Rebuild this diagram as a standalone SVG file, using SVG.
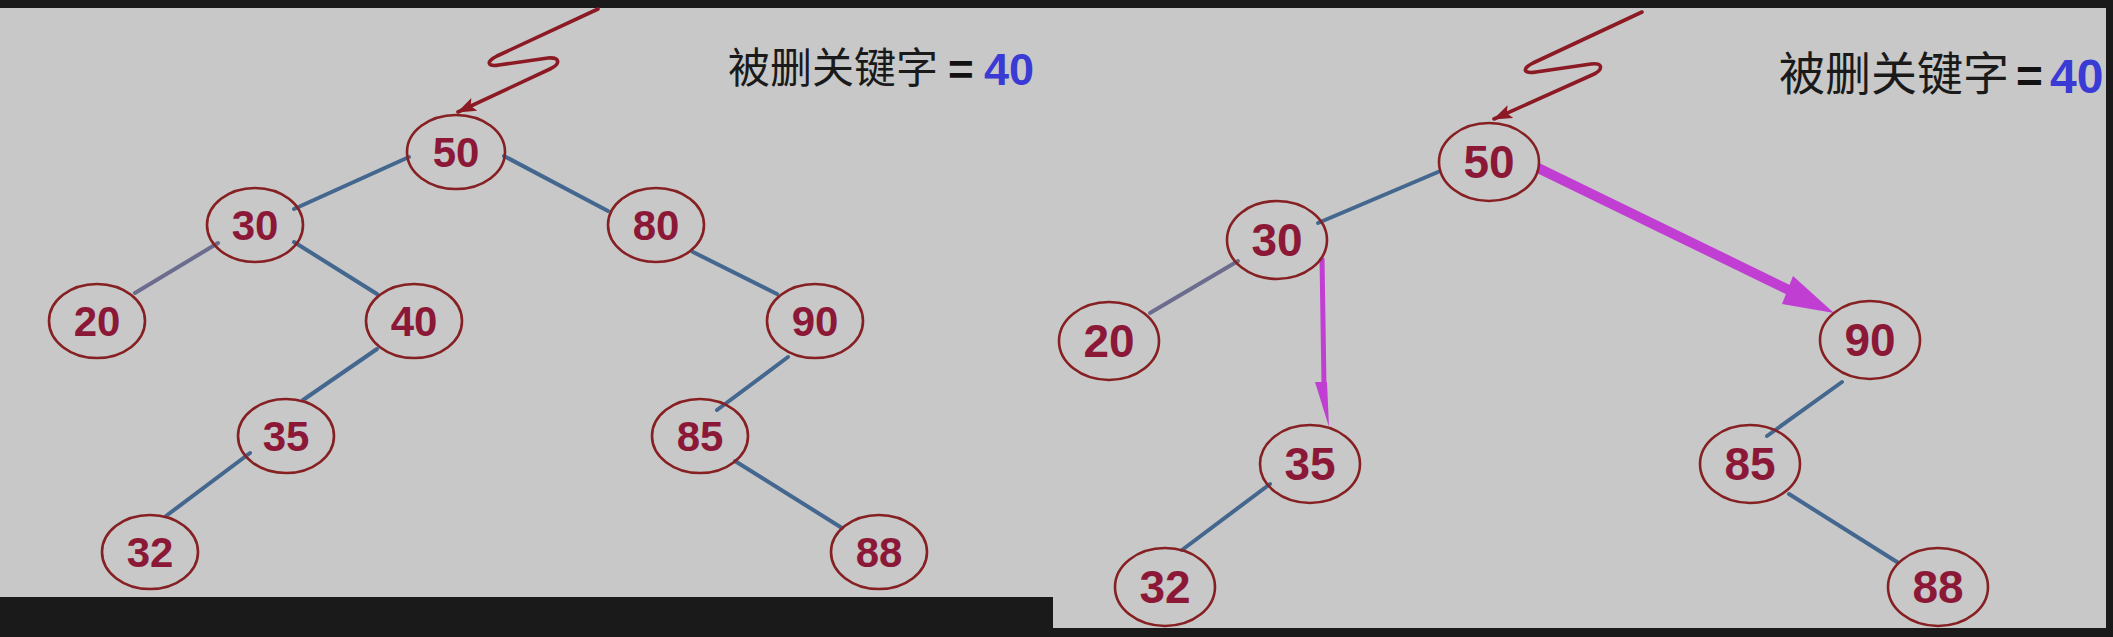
<svg xmlns="http://www.w3.org/2000/svg" width="2113" height="637" viewBox="0 0 2113 637">
<style>
.node ellipse{fill:none;stroke:#862022;stroke-width:2.6}
.nl text{font-family:"Liberation Sans",Arial,sans-serif;font-weight:bold;font-size:42px;fill:#8c1838;text-anchor:middle}
.nr text{font-family:"Liberation Sans",Arial,sans-serif;font-weight:bold;font-size:46px;fill:#8c1838;text-anchor:middle}
.edge{stroke:#44678f;stroke-width:4;fill:none;stroke-linecap:round}
.edge2{stroke:#6c6c8e;stroke-width:4;fill:none;stroke-linecap:round}
.zig{stroke:#8b1a24;stroke-width:3.6;fill:none;stroke-linejoin:round;stroke-linecap:round}
.cjk{font-family:"Noto Sans CJK SC","Noto Sans CJK JP",sans-serif;fill:#1a1a1a}
.eq{font-family:"Liberation Sans",Arial,sans-serif;font-weight:bold;fill:#111}
.num{font-family:"Liberation Sans",Arial,sans-serif;font-weight:bold;fill:#3a3ad4}
.mag{fill:#c03ed2}
</style>
<defs>
<marker id="ah" markerUnits="userSpaceOnUse" markerWidth="22" markerHeight="16" refX="18" refY="7" orient="auto">
<path d="M0,0 L19,7 L0,14 L4,7 Z" fill="#8b1a24"/>
</marker>
</defs>
<rect x="0" y="0" width="2113" height="637" fill="#1a1a1a"/>
<rect x="0" y="8" width="1053" height="589" fill="#c8c8c8"/>
<rect x="1053" y="8" width="1053" height="620" fill="#c8c8c8"/>

<g id="connectors">
<path class="zig" d="M598,9 L497,56 C485,62 488,67 499,65 L548,58 C560,57 561,64 550,69 L458,112" marker-end="url(#ah)"/>
<line class="edge" x1="409" y1="157" x2="294" y2="209"/>
<line class="edge" x1="504" y1="156" x2="608" y2="211"/>
<line class="edge2" x1="218" y1="243" x2="135" y2="293"/>
<line class="edge" x1="294" y1="242" x2="377" y2="294"/>
<line class="edge" x1="693" y1="252" x2="777" y2="294"/>
<line class="edge" x1="377" y1="349" x2="303" y2="400"/>
<line class="edge" x1="788" y1="357" x2="717" y2="410"/>
<line class="edge" x1="250" y1="453" x2="166" y2="516"/>
<line class="edge" x1="735" y1="461" x2="842" y2="528"/>

<path class="zig" d="M1642,12 L1533,63 C1521,69 1524,74 1536,72 L1591,64 C1603,62 1604,70 1592,75 L1494,119" marker-end="url(#ah)"/>
<line class="edge" x1="1438" y1="172" x2="1318" y2="223"/>
<line class="edge2" x1="1238" y1="261" x2="1150" y2="313"/>
<line class="edge" x1="1270" y1="484" x2="1182" y2="550"/>
<line class="edge" x1="1842" y1="382" x2="1767" y2="436"/>
<line class="edge" x1="1789" y1="494" x2="1897" y2="562"/>
<line x1="1538" y1="168" x2="1795" y2="293" stroke="#c03ed2" stroke-width="10"/>
<path class="mag" d="M1793,276 L1834,313 L1782,304 Z"/>
<line x1="1322" y1="258" x2="1324" y2="386" stroke="#c03ed2" stroke-width="5"/>
<path class="mag" d="M1315,382 L1327,382 L1329,427 Z"/>
</g>

<g id="left-nodes" class="nl">
<g id="L50" class="node"><ellipse cx="456" cy="152" rx="49" ry="37"/><text x="456" y="167">50</text></g>
<g id="L30" class="node"><ellipse cx="255" cy="225" rx="48" ry="37"/><text x="255" y="240">30</text></g>
<g id="L80" class="node"><ellipse cx="656" cy="225" rx="48" ry="37"/><text x="656" y="240">80</text></g>
<g id="L20" class="node"><ellipse cx="97" cy="321" rx="48" ry="37"/><text x="97" y="336">20</text></g>
<g id="L40" class="node"><ellipse cx="414" cy="321" rx="48" ry="37"/><text x="414" y="336">40</text></g>
<g id="L90" class="node"><ellipse cx="815" cy="321" rx="48" ry="37"/><text x="815" y="336">90</text></g>
<g id="L35" class="node"><ellipse cx="286" cy="436" rx="48" ry="37"/><text x="286" y="451">35</text></g>
<g id="L85" class="node"><ellipse cx="700" cy="436" rx="48" ry="37"/><text x="700" y="451">85</text></g>
<g id="L32" class="node"><ellipse cx="150" cy="552" rx="48" ry="37"/><text x="150" y="567">32</text></g>
<g id="L88" class="node"><ellipse cx="879" cy="552" rx="48" ry="37"/><text x="879" y="567">88</text></g>
</g>

<g id="right-nodes" class="nr">
<g id="R50" class="node"><ellipse cx="1489" cy="162" rx="50" ry="39"/><text x="1489" y="178">50</text></g>
<g id="R30" class="node"><ellipse cx="1277" cy="240" rx="50" ry="39"/><text x="1277" y="256">30</text></g>
<g id="R20" class="node"><ellipse cx="1109" cy="341" rx="50" ry="39"/><text x="1109" y="357">20</text></g>
<g id="R35" class="node"><ellipse cx="1310" cy="464" rx="50" ry="39"/><text x="1310" y="480">35</text></g>
<g id="R32" class="node"><ellipse cx="1165" cy="587" rx="50" ry="39"/><text x="1165" y="603">32</text></g>
<g id="R90" class="node"><ellipse cx="1870" cy="340" rx="50" ry="39"/><text x="1870" y="356">90</text></g>
<g id="R85" class="node"><ellipse cx="1750" cy="464" rx="50" ry="39"/><text x="1750" y="480">85</text></g>
<g id="R88" class="node"><ellipse cx="1938" cy="587" rx="50" ry="39"/><text x="1938" y="603">88</text></g>
</g>

<g id="label-left">
<text class="cjk" x="728" y="83" font-size="42">被删关键字</text>
<text class="eq" x="948" y="85" font-size="44">=</text>
<text class="num" x="984" y="85" font-size="45">40</text>
</g>
<g id="label-right">
<text class="cjk" x="1779" y="90" font-size="46">被删关键字</text>
<text class="eq" x="2016" y="92" font-size="46">=</text>
<text class="num" x="2050" y="93" font-size="48">40</text>
</g>
</svg>
